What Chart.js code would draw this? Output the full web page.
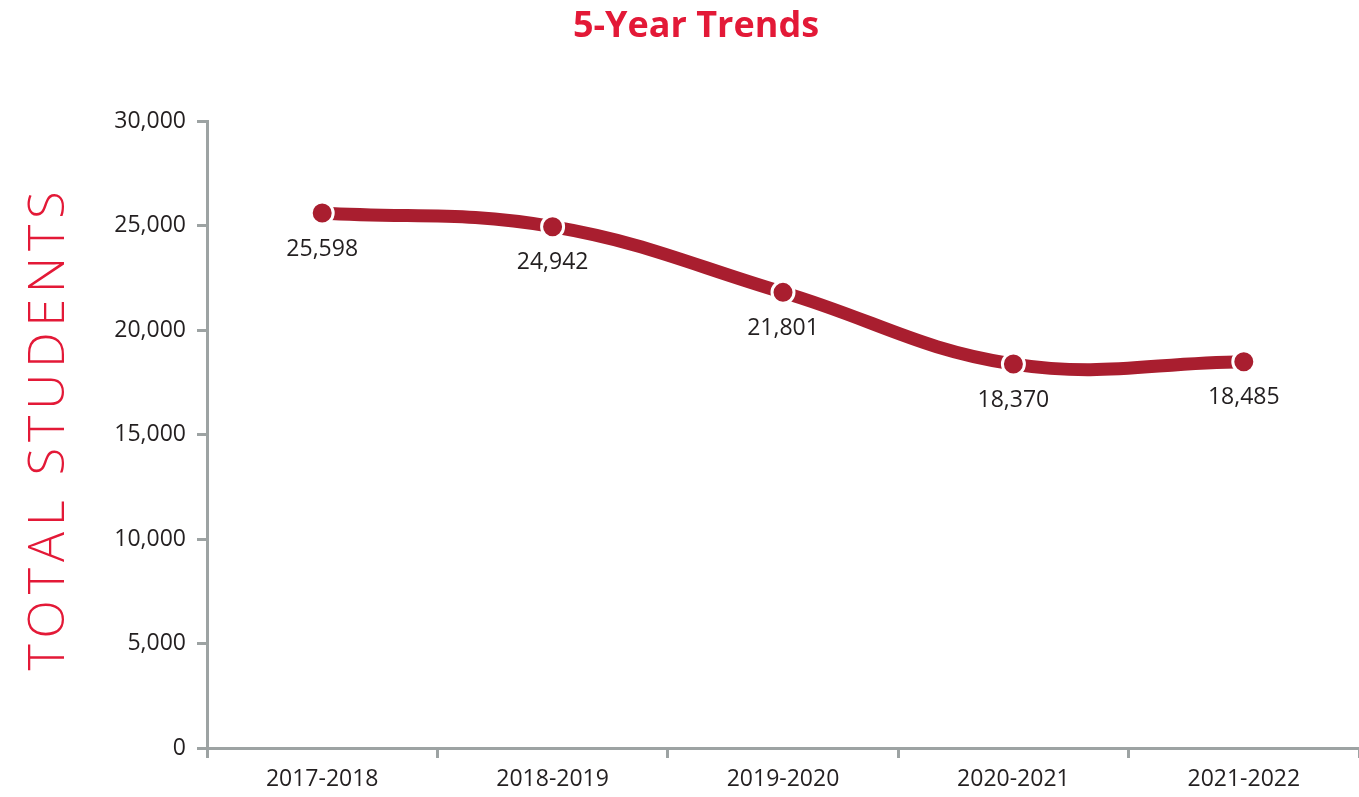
<!DOCTYPE html>
<html>
<head>
<meta charset="utf-8">
<script src="https://cdn.jsdelivr.net/npm/chart.js@4"></script>
<style>
  html, body { margin: 0; padding: 0; background: #fff; }
  #wrap { width: 1359px; height: 797px; }
</style>
</head>
<body>
<div id="wrap"><canvas id="chart"></canvas></div>
<script>
const years = ['2017-2018', '2018-2019', '2019-2020', '2020-2021', '2021-2022'];
const students = [25598, 24942, 21801, 18370, 18485];
const yTicks = [0, 5000, 10000, 15000, 20000, 25000, 30000];

const lineRed = '#A91E2F';
const titleRed = '#E31937';
const axisGray = '#9DA3A3';
const textDark = '#231F20';

// draw the value under each point
const valueLabels = {
  id: 'valueLabels',
  afterDatasetsDraw(chart) {
    const ctx = chart.ctx;
    const meta = chart.getDatasetMeta(0);
    ctx.save();
    ctx.font = '23px "Open Sans"';
    ctx.fillStyle = textDark;
    ctx.textAlign = 'center';
    ctx.textBaseline = 'middle';
    meta.data.forEach((pt, i) => {
      ctx.fillText(students[i].toLocaleString('en-US'), pt.x, pt.y + 36);
    });
    ctx.restore();
  }
};

// main title (slightly right of centre) and spaced-out vertical axis title
const titles = {
  id: 'titles',
  afterDraw(chart) {
    const ctx = chart.ctx;
    ctx.save();
    ctx.font = 'bold 36px "Open Sans"';
    ctx.fillStyle = titleRed;
    ctx.textAlign = 'center';
    ctx.textBaseline = 'middle';
    ctx.fillText('5-Year Trends', 696, 27);

    ctx.translate(50, 431);
    ctx.rotate(-Math.PI / 2);
    ctx.font = '300 50px "Open Sans"';
    ctx.letterSpacing = '6px';
    ctx.fillText('TOTAL STUDENTS', 3, 0);
    ctx.restore();
  }
};

let ctx = document.getElementById('chart');

var trends = new Chart(ctx, {
  type: 'line',
  data: {
    labels: years,
    datasets: [{
      label: 'Total Students',
      data: students,
      borderColor: lineRed,
      backgroundColor: lineRed,
      borderWidth: 13,
      tension: 0.4,
      pointRadius: 11,
      pointHoverRadius: 11,
      pointBackgroundColor: lineRed,
      pointBorderColor: '#fff',
      pointBorderWidth: 3,
      fill: false
    }]
  },
  options: {
    responsive: true,
    maintainAspectRatio: false,
    animation: false,
    layout: { autoPadding: false, padding: { top: 6, right: 0, bottom: 0, left: 0 } },
    plugins: {
      legend: { display: false },
      tooltip: { enabled: false },
      title: {
        // space holder; text is drawn by the titles plugin
        display: true,
        text: '5-Year Trends',
        color: 'rgba(0,0,0,0)',
        font: { family: '"Open Sans"', size: 35, weight: 'bold' },
        padding: { top: 0, bottom: 73 }
      }
    },
    scales: {
      x: {
        offset: true,
        afterFit: (axis) => { axis.height = 49; },
        grid: {
          offset: true,
          drawOnChartArea: false,
          drawTicks: true,
          tickLength: 10,
          color: axisGray,
          lineWidth: 3
        },
        border: { color: axisGray, width: 3 },
        ticks: {
          color: textDark,
          font: { family: '"Open Sans"', size: 23 },
          padding: 8,
          maxRotation: 0
        }
      },
      y: {
        min: 0,
        max: 30000,
        afterBuildTicks: (axis) => { axis.ticks = yTicks.map(v => ({ value: v })); },
        afterFit: (axis) => { axis.width = 207; },
        grid: {
          drawOnChartArea: false,
          drawTicks: true,
          tickLength: 10,
          color: axisGray,
          lineWidth: 3
        },
        border: { color: axisGray, width: 3 },
        ticks: {
          color: textDark,
          font: { family: '"Open Sans"', size: 23 },
          padding: 11,
          callback: (v) => Number(v).toLocaleString('en-US')
        }
      }
    }
  },
  plugins: [valueLabels, titles]
});
</script>
</body>
</html>
